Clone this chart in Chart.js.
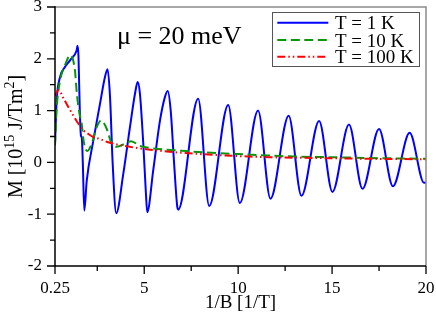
<!DOCTYPE html>
<html><head><meta charset="utf-8">
<script src="https://cdn.jsdelivr.net/npm/chart.js@4.4.1/dist/chart.umd.min.js"></script>
<style>html,body{margin:0;padding:0;background:#fff}canvas{display:block}</style>
</head><body>
<canvas id="c" width="436" height="313"></canvas>
<script>
// ---- data ----
const xTickValues = [0.25, 5, 10, 15, 20];
const xMinorTicks = [2.5, 7.5, 12.5, 17.5];
const yTickValues = [-2, -1, 0, 1, 2, 3];
const yMinorTicks = [-1.5, -0.5, 0.5, 1.5, 2.5];
const seriesLabels = ['T = 1 K', 'T = 10 K', 'T = 100 K'];
const annotationText = 'μ = 20 meV';

const t1x = [0.25,0.34,0.52,0.78,1.05,1.40,1.45,1.50,1.57,1.63,1.68,1.73,1.81,1.94,2.29,2.645,2.91,3.05,3.18,3.32,3.51,3.885,4.24,4.51,4.65,4.77,4.95,5.09,5.16,5.48,5.84,6.10,6.25,6.41,6.58,6.76,6.81,7.87,8.46,9.47,10.09,11.06,11.72,12.69,13.37,14.31,15.02,15.90,16.62,17.5,18.24,19.13,19.9,20];
const t1y = [0.35,1.2,1.65,1.84,1.97,2.16,2.25,2.05,1.0,0.52,0.47,0.0,-0.93,-0.35,0.42,1.13,1.65,1.80,1.26,-0.02,-0.98,-0.22,0.68,1.33,1.55,1.33,0.36,-0.60,-0.96,-0.15,0.81,1.26,1.38,1.0,0.04,-0.86,-0.91,1.23,-0.84,1.11,-0.785,1.0,-0.70,0.90,-0.645,0.80,-0.57,0.73,-0.51,0.645,-0.46,0.57,-0.395,-0.385];

const t10x = [0.25,0.34,0.52,0.78,1.06,1.31,1.42,1.55,1.67,1.78,1.97,2.20,2.47,2.70,3.00,3.27,3.53,3.98,4.30,4.77,5.48,6.8,8.3,10,11.8,13.3,15,17,20];
const t10y = [0.33,1.05,1.58,1.87,2.07,1.78,1.3,0.95,0.75,0.4,0.22,0.36,0.68,0.81,0.65,0.36,0.30,0.36,0.41,0.32,0.27,0.23,0.19,0.16,0.13,0.11,0.10,0.085,0.07];

const t100x = [0.25,0.43,0.7,0.96,1.49,1.76,2.02,2.29,2.65,3.0,3.5,4.4,5.2,6.2,7.4,9.0,10.5,11.7,13.1,15,17,20];
const t100y = [1.28,1.40,1.24,1.07,0.75,0.62,0.55,0.49,0.45,0.40,0.35,0.29,0.25,0.21,0.175,0.14,0.115,0.10,0.09,0.08,0.07,0.06];

const toPts = (xs, ys) => xs.map((v, i) => ({x: v, y: ys[i]}));
const SERIF = '"Liberation Serif", "Times New Roman", serif';

const decor = {
  id: 'decor',
  afterDraw(chart) {
    const {ctx, chartArea: a, scales: {x, y}} = chart;
    ctx.save();
    // frame top/right (gray)
    ctx.strokeStyle = '#8a8a8a'; ctx.lineWidth = 1.5;
    ctx.beginPath(); ctx.moveTo(a.left, a.top); ctx.lineTo(a.right, a.top); ctx.lineTo(a.right, a.bottom); ctx.stroke();
    // axes (black)
    ctx.strokeStyle = '#000'; ctx.lineWidth = 1.5;
    ctx.beginPath(); ctx.moveTo(a.left, a.top - 0.75); ctx.lineTo(a.left, a.bottom); ctx.lineTo(a.right, a.bottom); ctx.stroke();
    // ticks
    ctx.lineWidth = 1.3;
    ctx.beginPath();
    xTickValues.forEach(v => { const p = x.getPixelForValue(v); ctx.moveTo(p, a.bottom); ctx.lineTo(p, a.bottom + 8); });
    xMinorTicks.forEach(v => { const p = x.getPixelForValue(v); ctx.moveTo(p, a.bottom); ctx.lineTo(p, a.bottom + 5); });
    yTickValues.forEach(v => { const p = y.getPixelForValue(v); ctx.moveTo(a.left, p); ctx.lineTo(a.left - 8, p); });
    yMinorTicks.forEach(v => { const p = y.getPixelForValue(v); ctx.moveTo(a.left, p); ctx.lineTo(a.left - 5, p); });
    ctx.stroke();

    // annotation
    ctx.fillStyle = '#000';
    ctx.font = '26px ' + SERIF; ctx.textAlign = 'left'; ctx.textBaseline = 'alphabetic';
    ctx.fillText(annotationText, 117, 44);

    // y title with superscripts
    const big = '20px ' + SERIF, small = '14px ' + SERIF;
    const parts = [['M [10', big, 0], ['15', small, -8], [' J/Tm', big, 0], ['2', small, -8], [']', big, 0]];
    ctx.save();
    ctx.translate(22, (a.top + a.bottom) / 2);
    ctx.rotate(-Math.PI / 2);
    let total = 0;
    parts.forEach(p => { ctx.font = p[1]; total += ctx.measureText(p[0]).width; });
    let xx = -total / 2;
    parts.forEach(p => { ctx.font = p[1]; ctx.fillText(p[0], xx, p[2]); xx += ctx.measureText(p[0]).width; });
    ctx.restore();

    // legend
    const bx = 272.5, by = 12.5, bw = 147, bh = 54;
    ctx.fillStyle = '#fff'; ctx.fillRect(bx, by, bw, bh);
    ctx.strokeStyle = '#555'; ctx.lineWidth = 1; ctx.setLineDash([]);
    ctx.strokeRect(bx, by, bw, bh);
    const rows = [22.7, 40, 56.7];
    chart.data.datasets.forEach((ds, i) => {
      ctx.save();
      ctx.strokeStyle = ds.borderColor; ctx.lineWidth = ds.borderWidth;
      ctx.setLineDash(ds.borderDash || []);
      ctx.beginPath(); ctx.moveTo(277.3, rows[i]); ctx.lineTo(328.3, rows[i]); ctx.stroke();
      ctx.restore();
      ctx.fillStyle = '#000'; ctx.font = '19px ' + SERIF; ctx.textBaseline = 'alphabetic';
      ctx.fillText(ds.label, 335, rows[i] + 6.5);
    });
    ctx.restore();
  }
};

new Chart(document.getElementById('c'), {
  type: 'line',
  data: {
    datasets: [
      {label: seriesLabels[0], data: toPts(t1x, t1y), borderColor: '#0000ff', borderWidth: 2, pointRadius: 0, cubicInterpolationMode: 'monotone', order: 3},
      {label: seriesLabels[1], data: toPts(t10x, t10y), borderColor: '#0a960a', borderWidth: 2, borderDash: [9, 4.5], pointRadius: 0, cubicInterpolationMode: 'monotone', order: 2},
      {label: seriesLabels[2], data: toPts(t100x, t100y), borderColor: '#ff0000', borderWidth: 2, borderDash: [8, 3, 1.5, 3, 1.5, 3], pointRadius: 0, cubicInterpolationMode: 'monotone', order: 1}
    ]
  },
  options: {
    responsive: false, animation: false, devicePixelRatio: 1,
    layout: {padding: {top: 7, right: 10, left: 0, bottom: 0}},
    plugins: {legend: {display: false}, tooltip: {enabled: false}},
    scales: {
      x: {
        type: 'linear', min: 0.25, max: 20,
        afterBuildTicks: s => { s.ticks = xTickValues.map(v => ({value: v})); },
        ticks: {font: {family: SERIF, size: 17}, color: '#000', padding: 4, maxRotation: 0, autoSkip: false, callback: v => String(v)},
        grid: {display: false, drawTicks: true, tickLength: 8},
        border: {display: false},
        title: {display: true, text: '1/B [1/T]', font: {family: SERIF, size: 19}, color: '#000', padding: {top: 0, bottom: -1}},
        afterFit: s => { s.height = 47; s.paddingLeft = 0; s.paddingRight = 0; }
      },
      y: {
        type: 'linear', min: -2, max: 3,
        afterBuildTicks: s => { s.ticks = yTickValues.map(v => ({value: v})); },
        ticks: {font: {family: SERIF, size: 17}, color: '#000', padding: 5, callback: v => String(v)},
        grid: {display: false, drawTicks: true, tickLength: 8},
        border: {display: false},
        afterFit: s => { s.width = 55; s.paddingTop = 0; s.paddingBottom = 0; }
      }
    }
  },
  plugins: [decor]
});
</script>
</body></html>
